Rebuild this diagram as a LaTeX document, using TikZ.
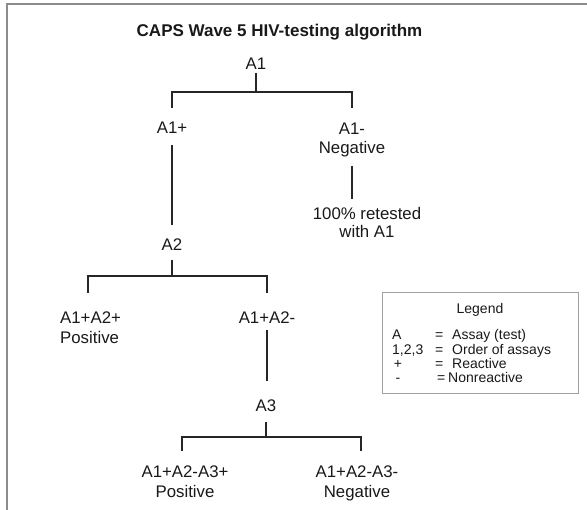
\documentclass[tikz,border=0pt]{standalone}
\usepackage{fontspec}
\setmainfont{Liberation Sans}
\usetikzlibrary{calc}
\definecolor{frameGray}{RGB}{140,140,140}
\definecolor{legGray}{RGB}{160,160,160}
\definecolor{txt}{RGB}{25,25,25}
\begin{document}
\begin{tikzpicture}[x=1pt,y=-1pt,
  every node/.style={inner sep=0pt, text depth=0pt, text=txt},
  lbl/.style={font=\fontsize{16.8}{19.5}\selectfont, align=center, text height=12pt},
  lbltwo/.style={font=\fontsize{16.8}{19.5}\selectfont, align=center, text height=31.5pt},
  conn/.style={line width=1.2pt, draw=black!85},
  legw/.style={font=\fontsize{14}{16}\selectfont, anchor=west, text height=10pt},
  legc/.style={font=\fontsize{14}{16}\selectfont, text height=10pt}]
\useasboundingbox (0,0) rectangle (587,510);
% frame
\draw[line width=2.4pt, draw=frameGray] (588,4) -- (7,4) -- (7,512);
% title
\node[font=\bfseries\fontsize{17}{20}\selectfont, text height=12.2pt] (title) at (279.5,30) {CAPS Wave 5 HIV-testing algorithm};
% tree nodes
\node[lbl] (a1) at (256,64) {A1};
\node[lbl] (a1p) at (172,128) {A1+};
\node[lbltwo] (a1n) at (352,138) {A1-\\Negative};
\node[lbltwo, font=\fontsize{16.8}{18}\selectfont, text height=30pt] (ret) at (367,223) {100\% retested\\with A1};
\node[lbl] (a2) at (172,245) {A2};
\node[lbltwo, align=left, anchor=west] (p2) at (60,327.5) {A1+A2+\\Positive};
\node[lbl] (a2n) at (267,318) {A1+A2-};
\node[lbl] (a3) at (266,406) {A3};
\node[lbltwo] (p3) at (185,481.5) {A1+A2-A3+\\Positive};
\node[lbltwo] (n3) at (357,481.5) {A1+A2-A3-\\Negative};
% connectors
\draw[conn] ($(a1)+(0,9)$) -- ($(a1)+(0,28)$) coordinate (j1);
\draw[conn] ($(a1p)+(0,-20)$) |- (j1) -| ($(a1n)+(0,-30)$);
\draw[conn] ($(a1p)+(0,17)$) -- ($(a2)+(0,-20)$);
\draw[conn] ($(a1n)+(0,28)$) -- ($(a1n |- ret)+(0,-24)$);
\draw[conn] ($(a2)+(0,15)$) -- ($(a2)+(0,31)$) coordinate (j2);
\draw[conn] ($(p2.west)+(28,-34.5)$) |- (j2) -| ($(a2n)+(0,-25)$);
\draw[conn] ($(a2n)+(0,12)$) -- ($(a2n |- a3)+(0,-25)$);
\draw[conn] ($(a3)+(0,16)$) -- ($(a3)+(0,31)$) coordinate (j3);
\draw[conn] ($(p3)+(-3,-30.5)$) |- (j3) -| ($(n3)+(4,-30.5)$);
% legend
\node[draw=legGray, line width=1pt, minimum width=196pt, minimum height=101pt] (leg) at (480,343.5) {};
\node[legc] (legt) at (480,309) {Legend};
\node[legw] (kA) at (392,335) {A};
\node[legw] (eA) at (435,335) {=};
\node[legw] (vA) at (452,335) {Assay (test)};
\node[legw] (kN) at (392,349.5) {1,2,3};
\node[legw] (eN) at (435,349.5) {=};
\node[legw] (vN) at (452,349.5) {Order of assays};
\node[legc] (kP) at (398,364) {+};
\node[legw] (eP) at (435,364) {=};
\node[legw] (vP) at (452,364) {Reactive};
\node[legc] (kM) at (398,378) {-};
\node[legw] (eM) at (437,378) {=};
\node[legw] (vM) at (448,378) {Nonreactive};
\end{tikzpicture}
\end{document}
